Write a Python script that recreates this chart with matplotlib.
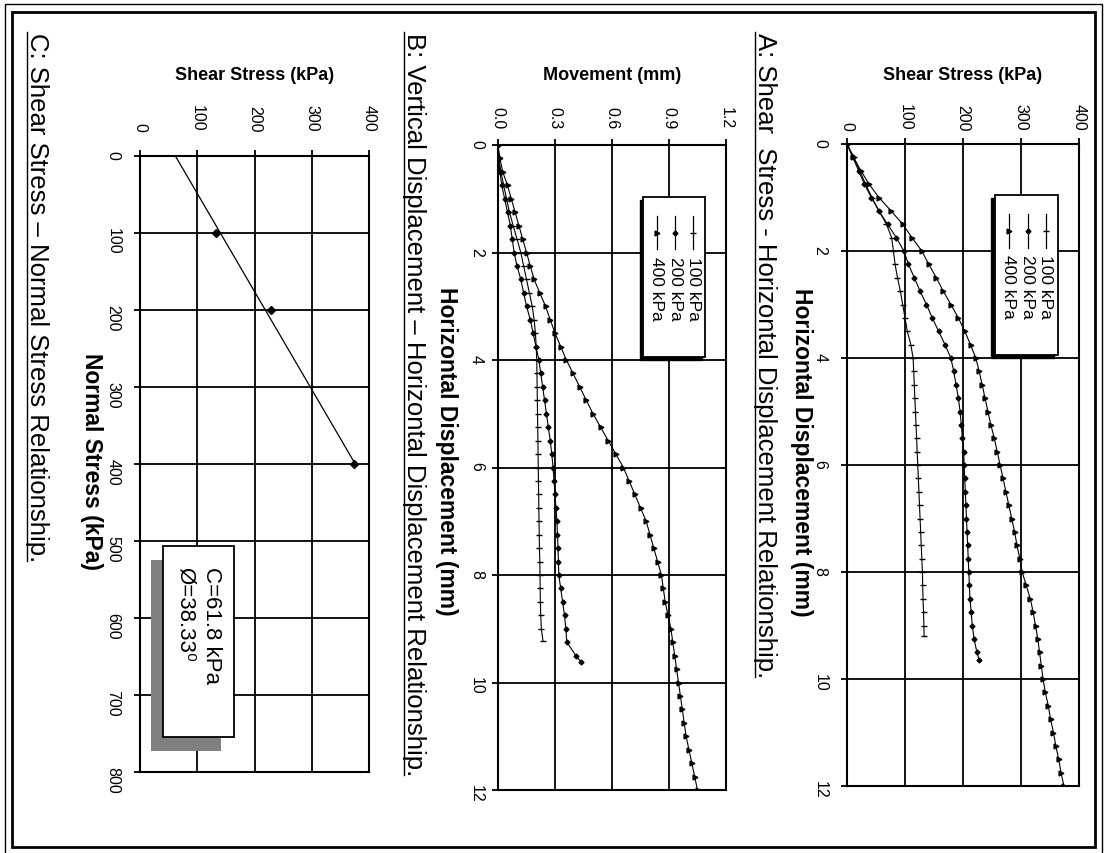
import matplotlib
matplotlib.use('Agg')
import matplotlib.pyplot as plt
from matplotlib.patches import Rectangle
from matplotlib.lines import Line2D
from matplotlib.transforms import ScaledTranslation

plt.rcParams['font.family'] = ['Liberation Sans', 'DejaVu Sans']

W, H = 1107, 854

# horizontal displacement readings (mm), every 0.25 mm
disp = [0.0, 0.25, 0.5, 0.75, 1.0, 1.25, 1.5, 1.75, 2.0, 2.25, 2.5, 2.75,
        3.0, 3.25, 3.5, 3.75, 4.0, 4.25, 4.5, 4.75, 5.0, 5.25, 5.5, 5.75,
        6.0, 6.25, 6.5, 6.75, 7.0, 7.25, 7.5, 7.75, 8.0, 8.25, 8.5, 8.75,
        9.0, 9.25, 9.5, 9.75, 10.0, 10.25, 10.5, 10.75, 11.0, 11.25, 11.5,
        11.75, 12.0]
disp_100 = disp[:37] + [9.2]
disp_200 = disp[:39] + [9.65]
disp_400 = disp

# A: shear stress (kPa)
shear_100 = [0, 12, 22, 32, 43, 55, 68, 77, 80, 83, 87, 92, 96, 100, 104, 110,
             114, 115, 116, 117, 118, 119, 120, 121, 122, 123, 124, 125, 126,
             127, 128, 129, 130, 130.5, 131, 132, 132.5, 133]
shear_200 = [0, 10, 20, 30, 42, 55, 70, 85, 98, 106, 116, 126, 137, 147, 158,
             169, 179, 184, 188, 192, 195, 197, 199, 201, 202, 203, 204, 205,
             206, 207, 208, 209, 210, 211, 212, 214, 216, 219, 224, 228]
shear_400 = [0, 11, 24, 38, 55, 76, 96, 112, 129, 141, 154, 166, 179, 192, 203,
             213, 222, 228, 233, 238, 243, 248, 254, 259, 264, 269, 274, 279,
             284, 289, 293, 298, 302, 309, 316, 321, 325, 329, 332, 335, 338,
             342, 347, 351, 356, 360, 365, 369, 374]

# B: vertical movement (mm)
mov_disp_100 = disp[:37] + [9.23]
mov_disp_200 = disp[:39] + [9.62]
mov_100 = [0, 0.005, 0.015, 0.03, 0.045, 0.06, 0.08, 0.10, 0.12, 0.135, 0.15,
           0.165, 0.18, 0.19, 0.197, 0.201, 0.204, 0.205, 0.206, 0.207, 0.208,
           0.209, 0.21, 0.211, 0.212, 0.213, 0.214, 0.215, 0.216, 0.217, 0.218,
           0.22, 0.221, 0.222, 0.223, 0.225, 0.228, 0.237]
mov_200 = [0, 0.003, 0.01, 0.02, 0.035, 0.05, 0.065, 0.075, 0.085, 0.10, 0.12,
           0.135, 0.15, 0.17, 0.185, 0.20, 0.215, 0.225, 0.235, 0.245, 0.255,
           0.265, 0.275, 0.283, 0.29, 0.295, 0.30, 0.305, 0.31, 0.313, 0.316,
           0.318, 0.32, 0.33, 0.34, 0.35, 0.357, 0.362, 0.41, 0.437]
mov_400 = [0, 0.01, 0.025, 0.05, 0.07, 0.09, 0.11, 0.13, 0.15, 0.17, 0.19,
           0.22, 0.25, 0.275, 0.30, 0.33, 0.36, 0.395, 0.43, 0.465, 0.50, 0.54,
           0.58, 0.62, 0.66, 0.69, 0.72, 0.75, 0.78, 0.80, 0.82, 0.84, 0.86,
           0.87, 0.88, 0.895, 0.91, 0.92, 0.93, 0.94, 0.95, 0.96, 0.97, 0.98,
           0.99, 1.005, 1.02, 1.035, 1.05]

# C: failure envelope
normal_pts = [100, 200, 400]
shear_pts = [133, 228, 374]
fit_normal = [0, 400]
fit_shear = [61.8, 376]

series_labels = ['100 kPa', '200 kPa', '400 kPa']
markers = {'100 kPa': ('_', 5), '200 kPa': ('D', 2.5), '400 kPa': ('>', 3.5)}

captions = ['A: Shear  Stress - Horizontal Displacement Relationship.',
            'B: Vertical Displacement \u2013 Horizontal Displacement Relationship.',
            'C: Shear Stress \u2013 Normal Stress Relationship.']

fig = plt.figure(figsize=(W / 100, H / 100), dpi=100)


def px_axes(x0, y0, x1, y1):
    return fig.add_axes([x0 / W, 1 - y1 / H, (x1 - x0) / W, (y1 - y0) / H])


def setup(ax, xlim, xticks, xfmt, ylim, yticks, top_pad, left_pad):
    # page is turned 90 deg: value axis runs left->right, displacement top->down
    ax.set_xlim(*xlim)
    ax.set_ylim(ylim[1], ylim[0])
    ax.xaxis.tick_top()
    ax.set_xticks(xticks)
    ax.set_xticklabels([xfmt % v for v in xticks])
    ax.set_yticks(yticks)
    ax.grid(True, color='black', lw=1.3)
    ax.set_axisbelow(True)
    for s in ax.spines.values():
        s.set_linewidth(1.5)
    ax.tick_params(axis='x', labelrotation=-90, pad=top_pad)
    ax.tick_params(axis='y', labelrotation=-90, pad=left_pad)
    ax.tick_params(direction='out', length=4, width=1.3, labelsize=11.5)


def set_labels(ax, xlabel, xy, ylabel, yx, yy, yfs=16.5):
    ax.xaxis.set_label_position('top')
    ax.set_xlabel(xlabel, fontweight='bold', fontsize=13)
    ax.xaxis.label.set_va('center')
    ax.xaxis.set_label_coords(0.5, xy)
    ax.set_ylabel(ylabel, fontweight='bold', fontsize=yfs, rotation=-90,
                  va='center', ha='center')
    ax.yaxis.set_label_coords(yx, yy)


def draw_legend(ax):
    bx, by, bw, bh = 0.637, 0.672, 0.272, 0.248
    shadow = ax.transAxes + ScaledTranslation(-0.035, -0.03, fig.dpi_scale_trans)
    ax.add_patch(Rectangle((bx, by), bw, bh, transform=shadow, fc='black',
                           ec='black', zorder=5, clip_on=False))
    ax.add_patch(Rectangle((bx, by), bw, bh, transform=ax.transAxes, fc='white',
                           ec='black', lw=1.3, zorder=6, clip_on=False))
    cols = [0.81, 0.52, 0.22]
    top = by + bh
    for lab, c in zip(series_labels, cols):
        m, ms = markers[lab]
        x = bx + bw * c
        ax.add_line(Line2D([x, x], [top - 0.12 * bh, top - 0.33 * bh],
                           transform=ax.transAxes, color='black', lw=0.9,
                           zorder=7))
        ax.add_line(Line2D([x], [top - 0.225 * bh], transform=ax.transAxes,
                           marker=m, ms=ms, color='black', mew=1, zorder=7))
        ax.text(x, top - 0.37 * bh, lab, transform=ax.transAxes, rotation=-90,
                rotation_mode='anchor', ha='left', va='center', fontsize=12.5,
                zorder=7)


# ---- A ----
axA = px_axes(847, 145, 1079, 787)
setup(axA, (0, 400), [0, 100, 200, 300, 400], '%d', (0, 12),
      [0, 2, 4, 6, 8, 10, 12], 6, 10)
for lab, d, s in zip(series_labels, [disp_100, disp_200, disp_400],
                     [shear_100, shear_200, shear_400]):
    m, ms = markers[lab]
    axA.plot(s, d, color='black', lw=0.8, marker=m, ms=ms, mew=1)
set_labels(axA, 'Shear Stress (kPa)', 1.109, 'Horizontal Displacement (mm)',
           -0.195, 0.522)
draw_legend(axA)

# ---- B ----
axB = px_axes(498, 146, 726, 791)
setup(axB, (0, 1.2), [0, 0.3, 0.6, 0.9, 1.2], '%.1f', (0, 12),
      [0, 2, 4, 6, 8, 10, 12], 8, 6)
for lab, d, s in zip(series_labels, [mov_disp_100, mov_disp_200, disp_400],
                     [mov_100, mov_200, mov_400]):
    m, ms = markers[lab]
    axB.plot(s, d, color='black', lw=0.8, marker=m, ms=ms, mew=1)
set_labels(axB, 'Movement (mm)', 1.110, 'Horizontal Displacement (mm)',
           -0.225, 0.526)
draw_legend(axB)

# ---- C ----
axC = px_axes(140, 157, 369, 773)
setup(axC, (0, 400), [0, 100, 200, 300, 400], '%d', (0, 800),
      list(range(0, 900, 100)), 14, 10)
axC.plot(fit_shear, fit_normal, color='black', lw=0.9)
axC.plot(shear_pts, normal_pts, ls='none', marker='D', ms=4.5, color='black')
set_labels(axC, 'Shear Stress (kPa)', 1.133, 'Normal Stress (kPa)', -0.21, 0.505)

# strength parameters box (with shadow)
fig.add_artist(Rectangle((151 / W, 1 - 752 / H), 70 / W, 191 / H,
                         transform=fig.transFigure, fc='#808080', ec='none',
                         zorder=5))
fig.add_artist(Rectangle((163 / W, 1 - 738 / H), 71 / W, 191 / H,
                         transform=fig.transFigure, fc='white', ec='black',
                         lw=1.3, zorder=6))
fig.text(212 / W, 1 - 567 / H, 'C=61.8 kPa', rotation=-90, rotation_mode='anchor',
         ha='left', va='center', fontsize=16, zorder=7)
fig.text(185 / W, 1 - 567 / H, '\u00d8=38.33\u2070', rotation=-90,
         rotation_mode='anchor', ha='left', va='center', fontsize=16, zorder=7)

# captions (underlined)
cap_texts = []
for cap, cx in zip(captions, [765, 414, 37]):
    t = fig.text(cx / W, 1 - 33 / H, cap, rotation=-90, rotation_mode='anchor',
                 ha='left', va='center', fontsize=18.5)
    cap_texts.append(t)

# page frame
fig.add_artist(Rectangle((5 / W, -2 / H), 1097 / W, 851 / H,
                         transform=fig.transFigure, fill=False, ec='black', lw=1))
fig.add_artist(Rectangle((12 / W, 1 - 848 / H), 1083 / W, 835 / H,
                         transform=fig.transFigure, fill=False, ec='black', lw=2))

fig.canvas.draw()
for t in cap_texts:
    bb = t.get_window_extent()
    x = bb.x0 + 2
    fig.add_artist(Line2D([x / W, x / W], [bb.y0 / H, bb.y1 / H],
                          transform=fig.transFigure, color='black', lw=1))

fig.savefig('out.png', dpi=100)
